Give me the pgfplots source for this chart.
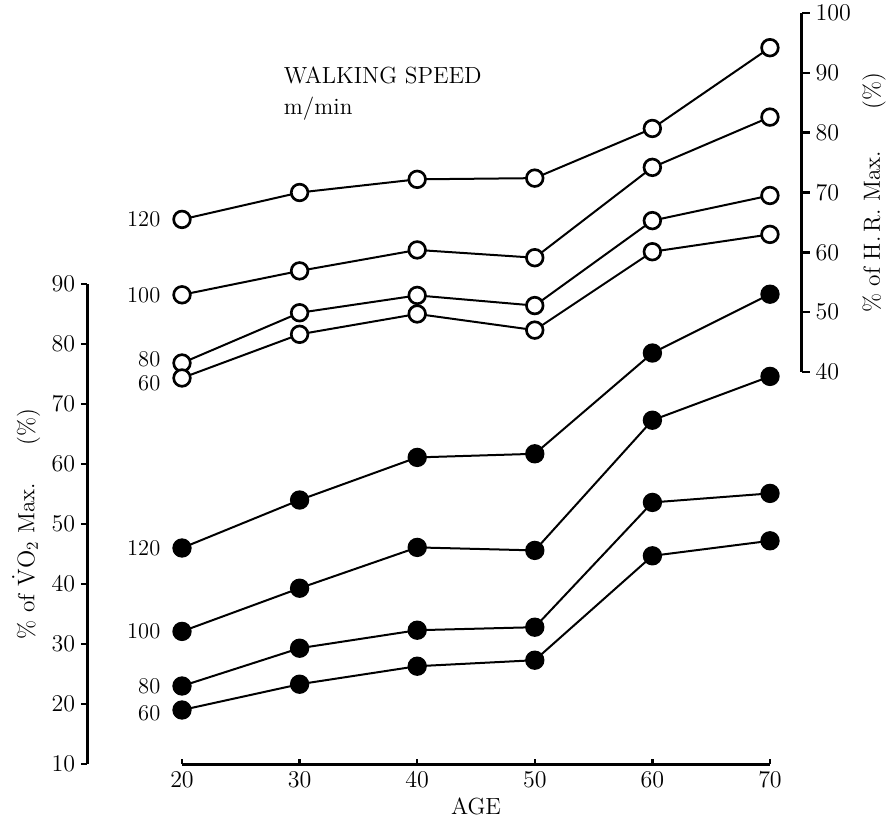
\documentclass[border=0pt]{standalone}
\usepackage{pgfplots}
\usepackage{pgfplotstable}
\pgfplotsset{compat=1.18}

% % of VO2 max (filled circles) by age, one column per walking speed (m/min)
\pgfplotstableread{
age s60 s80 s100 s120
20 19.0 23.0 32.1 46.0
30 23.3 29.3 39.3 54.0
40 26.3 32.3 46.1 61.1
50 27.3 32.8 45.6 61.7
60 44.7 53.6 67.3 78.5
70 47.2 55.1 74.6 88.3
}\vodata

% % of H.R. max (open circles) by age, one column per walking speed (m/min)
\pgfplotstableread{
age s60 s80 s100 s120
20 39.0 41.5 52.9 65.5
30 46.3 49.9 56.9 70.0
40 49.7 52.8 60.4 72.2
50 47.0 51.1 59.1 72.4
60 60.1 65.3 74.2 80.7
70 63.0 69.5 82.6 94.2
}\hrdata

\newcommand{\tickfont}{\fontsize{13.5}{15}\selectfont}
\newcommand{\labfont}{\fontsize{14}{16}\selectfont}

\pgfplotsset{
  frame/.style={
    scale only axis, anchor=south west, clip=false,
    axis line style={-, line width=1.8pt},
    every outer x axis line/.append style={-},
    every outer y axis line/.append style={-},
    every inner x axis line/.append style={-},
    every inner y axis line/.append style={-},
    tick style={line width=1.5pt, black},
    ticklabel style={font=\tickfont},
    label style={font=\labfont},
  },
  filled/.style={black, line width=1.2pt, mark=*,
    mark options={solid, fill=black, line width=0.8pt}, mark size=5.4pt},
  open/.style={black, line width=1.2pt, mark=*,
    mark options={solid, fill=white, line width=1.6pt}, mark size=5pt},
}

\begin{document}
\begin{tikzpicture}
\useasboundingbox (0,0) rectangle (534pt,492pt);

% age axis and the VO2 series
\begin{axis}[frame,
  at={(109.2pt,33.6pt)}, width=352.8pt, height=288pt,
  xmin=20, xmax=70, ymin=10, ymax=90,
  axis x line*=bottom, axis y line=none, ytick=\empty,
  xtick={20,30,40,50,60,70}, xtick align=inside, major tick length=3.2pt,
  xticklabel style={yshift=-1.5pt},
  xlabel={AGE}, xlabel style={font=\labfont, yshift=1pt},
]
  \addplot[filled] table[x=age, y=s120] {\vodata};
  \addplot[filled] table[x=age, y=s100] {\vodata};
  \addplot[filled] table[x=age, y=s80] {\vodata};
  \addplot[filled] table[x=age, y=s60] {\vodata};
  \begin{scope}[every node/.style={anchor=east, font=\tickfont, xshift=-9.5pt}]
    \node at (axis cs:20,46.0) {120};
    \node at (axis cs:20,32.1) {100};
    \node at (axis cs:20,23.0) {80};
    \node at (axis cs:20,19.0) [yshift=-2pt] {60};
  \end{scope}
\end{axis}

% left scale: % of VO2 max
\begin{axis}[frame,
  at={(52.2pt,33.6pt)}, width=6pt, height=288pt,
  xmin=0, xmax=1, ymin=10, ymax=90,
  axis y line*=left, axis x line=none, xtick=\empty,
  ytick={10,20,...,90}, ytick align=outside, major tick length=3.6pt,
  ylabel={\% of $\dot{\mathrm{V}}\mathrm{O}_2$ Max.\hspace{1.6em}(\%)},
  ylabel style={font=\labfont},
]
\end{axis}

% right scale: % of H.R. max, with the heart-rate series
\begin{axis}[frame,
  at={(109.2pt,268.8pt)}, width=371.8pt, height=215.4pt,
  xmin=20, xmax=72.7, ymin=40, ymax=100,
  axis y line*=right, axis x line=none, xtick=\empty,
  ytick={40,50,...,100}, ytick align=outside, major tick length=4.8pt,
  ylabel={\% of H.\,R. Max.\hspace{1.8em}(\%)},
  ylabel style={font=\labfont, rotate=0},
]
  \addplot[open] table[x=age, y=s120] {\hrdata};
  \addplot[open] table[x=age, y=s100] {\hrdata};
  \addplot[open] table[x=age, y=s80] {\hrdata};
  \addplot[open] table[x=age, y=s60] {\hrdata};
  \begin{scope}[every node/.style={anchor=east, font=\tickfont, xshift=-9.5pt}]
    \node at (axis cs:20,65.5) {120};
    \node at (axis cs:20,52.9) {100};
    \node at (axis cs:20,41.5) [yshift=2pt] {80};
    \node at (axis cs:20,39.0) [yshift=-3pt] {60};
  \end{scope}
\end{axis}

\node[anchor=west, font=\labfont] at (166.8pt,447pt) {WALKING SPEED};
\node[anchor=west, font=\labfont] at (166.8pt,427pt) {m/min};
\end{tikzpicture}
\end{document}
